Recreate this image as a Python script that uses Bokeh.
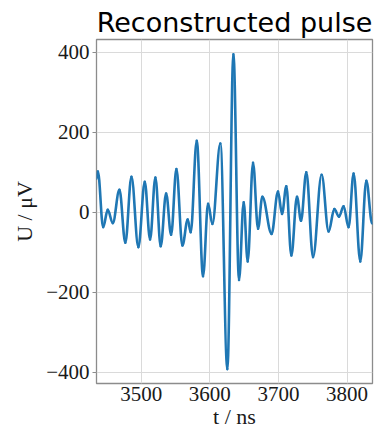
from bokeh.plotting import figure
from bokeh.models import Range1d, FixedTicker, ColumnDataSource
from bokeh.embed import file_html
from bokeh.resources import INLINE

# Extrema of the reconstructed pulse (time in ns, voltage in microvolt)
t_ns = [3435.0, 3437.0, 3444.7, 3451.4, 3458.7, 3468.4, 3477.0, 3485.9, 3496.0, 3505.3,
        3513.0, 3520.8, 3528.5, 3536.4, 3543.7, 3551.4, 3560.1, 3567.9, 3572.2, 3581.0,
        3590.2, 3597.5, 3603.8, 3615.4, 3625.6, 3634.4, 3642.6, 3649.4, 3655.2, 3663.0,
        3670.3, 3676.6, 3690.0, 3699.4, 3705.2, 3711.5, 3718.8, 3727.0, 3732.9, 3740.6,
        3750.4, 3762.9, 3773.1, 3781.4, 3788.2, 3794.9, 3802.2, 3809.5, 3819.2, 3828.0,
        3836.5]
u_uv = [84, 102, -37, 6, -27, 56, -76, 89, -87, 76,
        -68, 87, -85, 47, -56, 108, -83, -18, -50, 179,
        -160, 21, -29, 172, -392, 395, -169, 25, -123, 124,
        -41, 39, -54, 52, -4, 65, -108, 39, -21, 100,
        -112, 94, -48, 8, -11, 15, -37, 97, -123, 79,
        -28]

x_ticks = [3500, 3600, 3700, 3800]
y_ticks = [-400, -200, 0, 200, 400]

# smooth half-wave segments between successive extrema (horizontal tangents at extrema)
k = 0.3642
x0 = t_ns[:-1]
x1 = t_ns[1:]
y0 = u_uv[:-1]
y1 = u_uv[1:]
cx0 = [a + k * (b - a) for a, b in zip(x0, x1)]
cx1 = [b - k * (b - a) for a, b in zip(x0, x1)]
src = ColumnDataSource(dict(x0=x0, y0=y0, x1=x1, y1=y1, cx0=cx0, cy0=y0, cx1=cx1, cy1=y1))

p = figure(width=390, height=431, output_backend="svg", toolbar_location=None,
           x_range=Range1d(3435, 3837), y_range=Range1d(-428, 432),
           title="Reconstructed pulse",
           min_border_left=96, min_border_right=18, min_border_top=39, min_border_bottom=47)

p.bezier(x0="x0", y0="y0", x1="x1", y1="y1", cx0="cx0", cy0="cy0", cx1="cx1", cy1="cy1",
         source=src, line_color="#1f77b4", line_width=2.6, line_cap="round")

p.title.text_font = "DejaVu Sans"
p.title.text_font_size = "27px"
p.title.text_font_style = "normal"
p.title.text_color = "#000000"
p.title.align = "center"
p.title.offset = 0
p.title.standoff = 3

p.outline_line_color = "#8c8c8c"
p.outline_line_width = 1.3

p.xaxis.ticker = FixedTicker(ticks=x_ticks)
p.yaxis.ticker = FixedTicker(ticks=y_ticks)
p.yaxis.formatter.use_scientific = False
for ax in (p.xaxis, p.yaxis):
    ax.axis_line_color = None
    ax.minor_tick_line_color = None
    ax.major_tick_line_color = "#8c8c8c"
    ax.major_tick_in = 0
    ax.major_label_text_font = "Liberation Serif"
    ax.major_label_text_font_size = "21px"
    ax.major_label_text_color = "#1a1a1a"
    ax.major_label_text_line_height = 1.0
    ax.axis_label_text_font = "Liberation Serif"
    ax.axis_label_text_font_size = "22px"
    ax.axis_label_text_font_style = "normal"
    ax.axis_label_text_color = "#1a1a1a"
    ax.axis_label_text_line_height = 1.0
p.xaxis.major_tick_out = 0
p.yaxis.major_tick_out = 4
p.xaxis.major_label_standoff = 3
p.yaxis.major_label_standoff = 3
p.xaxis.axis_label = "t / ns"
p.yaxis.axis_label = "U / μV"
p.xaxis.axis_label_standoff = 0
p.yaxis.axis_label_standoff = 6

p.xgrid.grid_line_color = "#dadada"
p.ygrid.grid_line_color = "#dadada"
p.xgrid.grid_line_width = 1
p.ygrid.grid_line_width = 1
p.background_fill_color = "white"
p.border_fill_color = "white"

open("out.html", "w").write(file_html(p, INLINE))
